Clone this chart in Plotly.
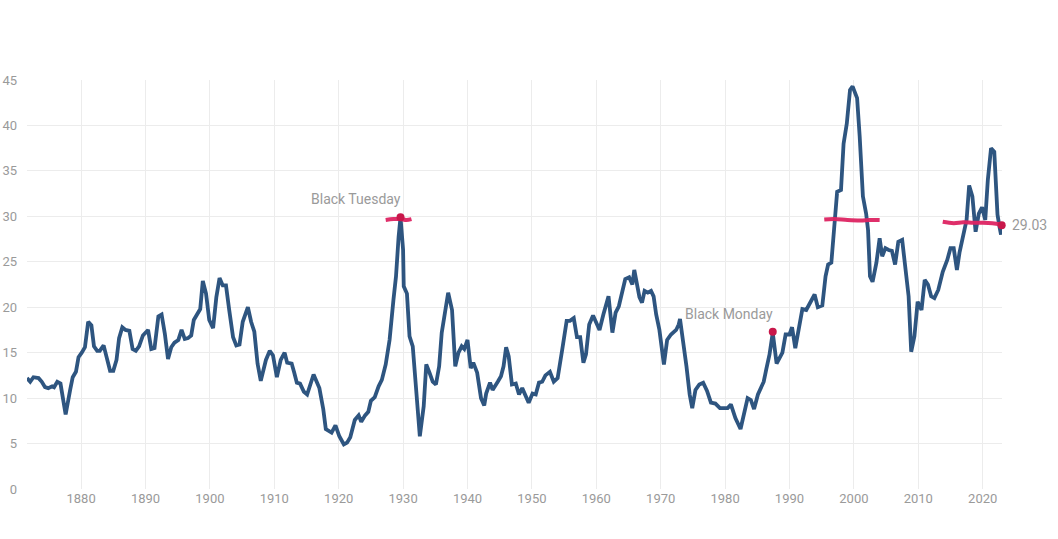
import plotly.graph_objects as go

years = [
    1871.6, 1872.1, 1872.6, 1873.4, 1873.9, 1874.4, 1874.9, 1875.5, 1875.8, 1876.3, 1876.8,
    1877.2, 1877.6, 1878.3, 1878.7, 1879.2, 1879.6, 1880.1, 1880.6, 1881.1, 1881.6, 1882.0,
    1882.5, 1882.9, 1883.5, 1884.0, 1884.5, 1885.0, 1885.5, 1885.9, 1886.4, 1886.9, 1887.5,
    1888.0, 1888.5, 1889.0, 1889.6, 1890.4, 1890.9, 1891.4, 1892.0, 1892.5, 1893.0, 1893.5,
    1894.0, 1894.5, 1895.1, 1895.6, 1896.1, 1896.6, 1897.1, 1897.5, 1898.0, 1898.5, 1898.9,
    1899.4, 1899.9, 1900.5, 1901.0, 1901.5, 1902.0, 1902.5, 1903.0, 1903.6, 1904.1, 1904.6,
    1905.1, 1905.9, 1906.4, 1906.9, 1907.4, 1907.9, 1908.7, 1909.3, 1909.8, 1910.4,
    1911.0, 1911.6, 1912.0, 1912.7, 1913.1, 1913.5, 1914.0, 1914.6, 1915.1, 1916.1, 1917.0,
    1917.6, 1918.0, 1918.9, 1919.5, 1920.1, 1920.8, 1921.3, 1921.8, 1922.5, 1923.1, 1923.5,
    1924.1, 1924.6, 1925.0, 1925.6, 1926.2, 1926.7, 1927.3, 1927.9, 1928.5, 1928.9, 1929.3,
    1929.6, 1930.0, 1930.1, 1930.6, 1931.0, 1931.5, 1932.1, 1932.6, 1933.2, 1933.6, 1934.1,
    1934.6, 1935.1, 1935.6, 1936.0, 1936.7, 1937.0, 1937.6, 1938.1, 1938.6, 1939.1, 1939.5,
    1940.0, 1940.5, 1940.9, 1941.5, 1942.1, 1942.6,
    1942.9, 1943.5, 1943.9, 1944.7, 1945.2, 1945.6, 1946.0, 1946.4, 1946.9, 1947.5, 1948.0,
    1948.5, 1949.0, 1949.5, 1950.1, 1950.6, 1951.1, 1951.6, 1952.1, 1952.8, 1953.4, 1954.0,
    1954.7, 1955.4, 1955.9, 1956.5, 1957.0, 1957.5, 1958.0, 1958.4, 1958.9, 1959.5, 1960.0,
    1960.5, 1961.1, 1961.5, 1961.9, 1962.5, 1963.0, 1963.5, 1964.0, 1964.5, 1965.1, 1965.6,
    1965.9, 1966.3, 1966.7, 1967.1, 1967.5, 1968.0, 1968.5, 1968.9, 1969.3, 1969.8, 1970.2,
    1970.5, 1971.0, 1971.6, 1972.4, 1972.8, 1973.0, 1973.5, 1974.0, 1974.5, 1974.9, 1975.4,
    1976.0, 1976.6, 1977.2, 1977.8, 1978.5, 1979.2, 1980.4, 1980.9, 1981.6, 1982.4, 1983.0,
    1983.5, 1984.0, 1984.5, 1985.1, 1986.0, 1986.4, 1986.9, 1987.4, 1988.0, 1988.9, 1989.4,
    1990.0, 1990.4, 1990.9, 1991.5, 1992.0, 1992.6, 1993.1, 1993.9, 1994.4, 1995.1, 1995.6,
    1996.0, 1996.5, 1996.8, 1997.4, 1998.0, 1998.4, 1998.9, 1999.4, 1999.8, 2000.5, 2000.9,
    2001.4, 2001.9, 2002.2, 2002.5, 2002.9, 2003.5, 2004.0, 2004.4, 2004.9, 2005.4, 2005.9,
    2006.4, 2006.9, 2007.5, 2008.0, 2008.5, 2008.9, 2009.4, 2009.9, 2010.5, 2011.0, 2011.5,
    2012.0, 2012.5, 2013.1, 2013.8, 2014.5, 2015.0, 2015.5, 2016.0, 2016.4, 2017.0, 2017.5,
    2017.9, 2018.4, 2018.9, 2019.4, 2019.9, 2020.4, 2020.8, 2021.3, 2021.8, 2022.3, 2022.6,
    2022.85, 2022.95,
]

cape = [
    12.2, 11.8, 12.3, 12.2, 11.8, 11.2, 11.1, 11.3, 11.2, 11.8, 11.6,
    9.6, 8.2, 10.9, 12.3, 12.9, 14.5, 15.0, 15.6, 18.4, 18.0, 15.7,
    15.2, 15.2, 15.8, 14.4, 13.0, 13.0, 14.2, 16.6, 17.8, 17.5, 17.4,
    15.4, 15.2, 15.7, 16.9, 17.5, 15.4, 15.5, 19.0, 19.2, 17.1, 14.3,
    15.6, 16.1, 16.4, 17.5, 16.5, 16.6, 16.9, 18.6, 19.2, 19.8, 22.9,
    21.5, 18.6, 17.7, 21.1, 23.2, 22.4, 22.4, 19.7, 16.7, 15.8, 15.9,
    18.4, 20.0, 18.4, 17.3, 13.8, 11.9, 14.2, 15.2, 14.7, 12.3,
    14.2, 15.0, 13.9, 13.8, 12.8, 11.7, 11.6, 10.7, 10.4, 12.6, 11.1,
    8.8, 6.6, 6.2, 7.0, 5.8, 4.9, 5.1, 5.7, 7.6, 8.1, 7.4,
    8.1, 8.5, 9.7, 10.1, 11.3, 12.0, 13.7, 16.4, 20.8, 23.4, 27.7,
    29.9, 26.3, 22.3, 21.5, 16.8, 15.7, 9.9, 5.8, 9.1, 13.7, 12.8,
    11.8, 11.5, 13.5, 17.2, 20.1, 21.6, 19.7, 13.5, 15.0, 15.7, 15.4,
    16.4, 13.3, 13.9, 12.8, 10.0, 9.2,
    10.5, 11.7, 10.9, 11.8, 12.4, 13.5, 15.6, 14.6, 11.5, 11.6, 10.4,
    11.1, 10.2, 9.5, 10.5, 10.4, 11.7, 11.8, 12.5, 12.9, 11.8, 12.2,
    15.3, 18.5, 18.5, 18.8, 16.7, 16.7, 13.9, 14.8, 18.1, 19.1, 18.3,
    17.5, 19.2, 20.3, 21.2, 17.2, 19.4, 20.1, 21.8, 23.1, 23.3, 22.5,
    24.1, 22.7, 21.1, 20.5, 21.8, 21.6, 21.8, 21.2, 19.2, 17.5, 15.7,
    13.7, 16.4, 17.0, 17.5, 18.1, 18.7, 16.4, 13.5, 10.4, 8.9, 10.9,
    11.5, 11.7, 10.8, 9.5, 9.4, 8.9, 8.9, 9.3, 7.8, 6.6, 8.7,
    10.0, 9.8, 8.8, 10.4, 11.8, 13.2, 14.8, 17.2, 13.8, 15.0, 17.0,
    17.0, 17.8, 15.5, 17.9, 19.8, 19.7, 20.4, 21.4, 20.0, 20.2, 23.4,
    24.7, 24.9, 27.4, 32.7, 32.9, 38.0, 40.2, 43.9, 44.3, 43.0, 38.8,
    32.2, 30.3, 28.5, 23.4, 22.8, 24.9, 27.6, 25.6, 26.5, 26.3, 26.2,
    24.7, 27.2, 27.4, 24.1, 21.2, 15.1, 16.8, 20.6, 19.7, 23.0, 22.5,
    21.2, 21.0, 21.9, 23.9, 25.2, 26.5, 26.5, 24.1, 26.0, 27.8, 29.6,
    33.4, 32.2, 28.3, 30.3, 31.0, 29.6, 34.0, 37.5, 37.1, 30.2, 28.9,
    28.0, 29.03,
]

event_years = [1929.6, 1987.4]
event_values = [29.9, 17.3]
event_labels = ["Black Tuesday", "Black Monday"]

last_year = 2022.95
last_value = 29.03

# hand-drawn highlight strokes
stroke1_x = [1927.3, 1928.5, 1929.6, 1930.5, 1931.3]
stroke1_y = [29.6, 29.7, 29.7, 29.6, 29.7]
stroke2_x = [1995.4, 1997.0, 1999.0, 2001.0, 2002.5, 2004.0]
stroke2_y = [29.65, 29.7, 29.6, 29.55, 29.6, 29.6]
stroke3_x = [2013.8, 2015.5, 2017.0, 2018.5, 2020.0, 2021.5, 2022.95]
stroke3_y = [29.4, 29.25, 29.35, 29.3, 29.3, 29.25, 29.1]

x_ticks = list(range(1880, 2021, 10))
y_ticks = list(range(0, 46, 5))

LINE = "#2e5580"
PINK = "#de2463"
DOT = "#c8174a"
GRAY = "#9a9a9a"
FONT = "Roboto"

fig = go.Figure()
fig.add_trace(go.Scatter(x=years, y=cape, mode="lines",
                         line=dict(color=LINE, width=3.8), hoverinfo="skip"))
for sx, sy in [(stroke1_x, stroke1_y), (stroke2_x, stroke2_y), (stroke3_x, stroke3_y)]:
    fig.add_trace(go.Scatter(x=sx, y=sy, mode="lines",
                             line=dict(color=PINK, width=4, shape="spline"),
                             opacity=0.95, hoverinfo="skip"))
fig.add_trace(go.Scatter(x=event_years + [last_year], y=event_values + [last_value],
                         mode="markers", marker=dict(color=DOT, size=8),
                         cliponaxis=False, hoverinfo="skip"))

for ex, ey, et in zip(event_years, event_values, event_labels):
    fig.add_annotation(x=ex, y=ey, text=et, showarrow=False, xanchor="right",
                       yanchor="bottom", yshift=8, xshift=2,
                       font=dict(family=FONT, size=14, color=GRAY))
fig.add_annotation(x=last_year, y=last_value, text=f"{last_value:.2f}", showarrow=False,
                   xanchor="left", yanchor="middle", xshift=8,
                   font=dict(family=FONT, size=14, color=GRAY))

fig.update_layout(
    width=1058, height=539,
    margin=dict(l=27, r=56, t=80, b=50),
    paper_bgcolor="white", plot_bgcolor="white",
    showlegend=False,
    font=dict(family=FONT, size=13, color=GRAY),
    xaxis=dict(range=[1871.6, 2023.0], tickvals=x_ticks, ticktext=[str(t) for t in x_ticks],
               showgrid=True, gridcolor="#ececec", gridwidth=1, zeroline=False,
               showline=False, ticks="", automargin=False,
               tickfont=dict(size=13, color=GRAY)),
    yaxis=dict(range=[0, 45], tickvals=y_ticks, showgrid=True, gridcolor="#ececec",
               gridwidth=1, zeroline=False, showline=False, ticks="", automargin=False,
               ticklabelstandoff=9, tickfont=dict(size=13, color=GRAY)),
)

fig.write_html("out.html", config={"displayModeBar": False},
               post_script="document.body.style.margin='0';document.body.style.overflow='hidden';")
